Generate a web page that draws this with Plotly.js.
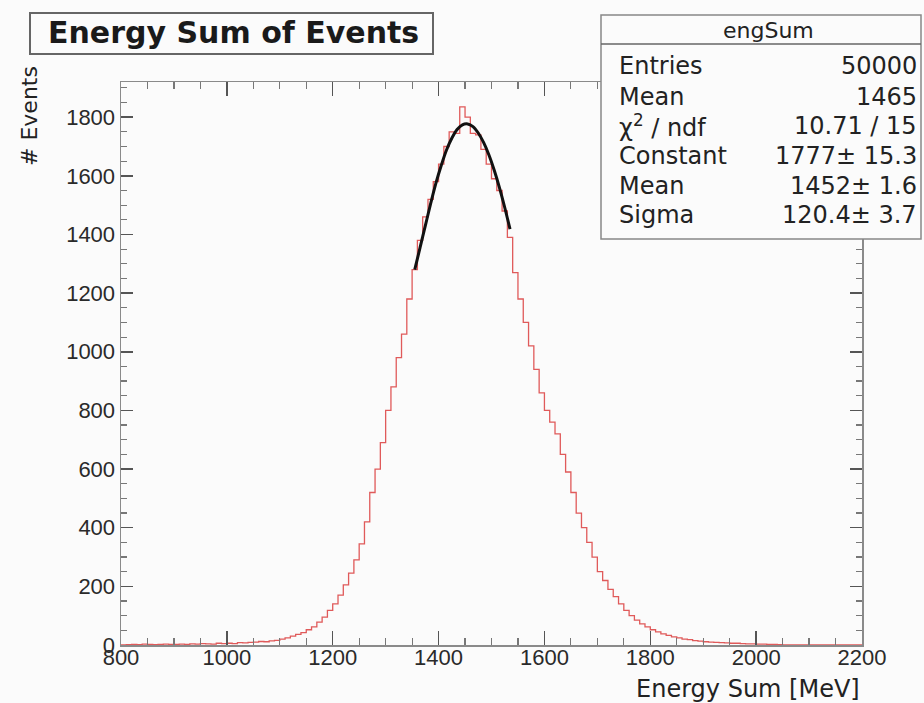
<!DOCTYPE html>
<html>
<head>
<meta charset="utf-8">
<script src="https://cdn.plot.ly/plotly-3.0.1.min.js"></script>
<style>html,body{margin:0;padding:0;background:#fbfbfb;}</style>
</head>
<body>
<div id="chart" style="width:924px;height:703px;"></div>
<script>
// ---- data ----
const binStart = 800;      // lower edge of first bin (MeV)
const binWidth = 10;       // MeV per bin
const counts = [
  0,1,2,1,3,2,1,2,3,2,            // 800
  2,3,2,4,3,5,4,3,6,5,            // 900
  6,5,8,7,9,10,12,11,14,16,       // 1000
  20,24,30,36,42,52,62,78,95,118, // 1100
  140,170,205,245,290,345,420,520,600,690,        // 1200
  800,880,980,1060,1180,1280,1380,1460,1520,1580, // 1300
  1640,1700,1750,1745,1835,1800,1745,1740,1690,1640, // 1400
  1590,1550,1480,1390,1270,1180,1100,1020,940,860,   // 1500
  800,760,720,650,590,520,450,400,350,300,        // 1600
  250,220,190,165,140,118,100,85,72,62,           // 1700
  52,45,38,33,28,24,20,18,15,13,                  // 1800
  11,10,9,8,7,6,6,5,4,4,                          // 1900
  3,3,2,2,1,0,0,0,0,0,                            // 2000
  0,0,0,0,0,0,0,0,0,0                             // 2100
];
const fitX = [1355,1365,1375,1385,1395,1405,1415,1425,1435,1445,1455,1465,1475,1485,1495,1505,1515,1525,1535];
const fitY = [1280,1355,1430,1505,1575,1635,1688,1728,1758,1774,1777,1768,1746,1714,1672,1620,1560,1492,1418];
const xTickVals = [800,1000,1200,1400,1600,1800,2000,2200];
const yTickVals = [0,200,400,600,800,1000,1200,1400,1600,1800];
const chartTitle = "Energy Sum of Events";
const xTitle = "Energy Sum [MeV]";
const yTitle = "# Events";
const statsName = "engSum";
const statsLabels = ["Entries","Mean","χ<sup>2</sup> / ndf","Constant","Mean","Sigma"];
const statsValues = ["50000","1465","10.71 / 15","1777± 15.3","1452± 1.6","120.4± 3.7"];

// ---- build histogram outline ----
const hx = [], hy = [];
for (let i = 0; i < counts.length; i++) { hx.push(binStart + i*binWidth); hy.push(counts[i]); }
hx.push(binStart + counts.length*binWidth); hy.push(counts[counts.length-1]);

// ---- geometry helpers ----
const W = 924, H = 703, L = 121, R = 62, T = 82, B = 58;
const pw = W - L - R, ph = H - T - B;
const px = v => (v - L) / pw;
const py = v => (H - B - v) / ph;

const FONT = "Liberation Sans, Arial, Helvetica, sans-serif";
const WFONT = "DejaVu Sans, Liberation Sans, sans-serif";

const traces = [
  { x: hx, y: hy, type: 'scatter', mode: 'lines', line: { shape: 'hv', color: '#e05a5a', width: 1.3 }, hoverinfo: 'skip', showlegend: false },
  { x: fitX, y: fitY, type: 'scatter', mode: 'lines', line: { shape: 'spline', color: '#111', width: 3 }, hoverinfo: 'skip', showlegend: false }
];

const annotations = [
  { text: '<b>' + chartTitle + '</b>', xref: 'paper', yref: 'paper', x: px(46), y: py(33), xanchor: 'left', yanchor: 'middle', showarrow: false, font: { family: WFONT, size: 30, color: '#1a1a1a' } },
  { text: xTitle, xref: 'paper', yref: 'paper', x: px(862), y: py(689), xanchor: 'right', yanchor: 'middle', showarrow: false, font: { family: WFONT, size: 24, color: '#222' } },
  { text: yTitle, xref: 'paper', yref: 'paper', x: px(30), y: py(64), xanchor: 'center', yanchor: 'top', textangle: -90, showarrow: false, font: { family: WFONT, size: 22, color: '#222' } },
  { text: statsName, xref: 'paper', yref: 'paper', x: px(768), y: py(30), xanchor: 'center', yanchor: 'middle', showarrow: false, font: { family: WFONT, size: 22, color: '#222' } }
];
const rowY = [66, 97, 126, 156, 186, 215];
statsLabels.forEach((s, i) => {
  annotations.push({ text: s, xref: 'paper', yref: 'paper', x: px(617), y: py(rowY[i]), xanchor: 'left', yanchor: 'middle', showarrow: false, font: { family: WFONT, size: 24, color: '#222' } });
  annotations.push({ text: statsValues[i], xref: 'paper', yref: 'paper', x: px(919), y: py(rowY[i]), xanchor: 'right', yanchor: 'middle', showarrow: false, font: { family: WFONT, size: 24, color: '#222' } });
});

const shapes = [
  { type: 'rect', xref: 'paper', yref: 'paper', x0: px(30), x1: px(433), y0: py(54), y1: py(13), line: { color: '#666', width: 2 }, fillcolor: 'rgba(255,255,255,0)' },
  { type: 'rect', xref: 'paper', yref: 'paper', x0: px(601), x1: px(921), y0: py(239), y1: py(15), line: { color: '#888', width: 1.5 }, fillcolor: '#fbfbfb' },
  { type: 'line', xref: 'paper', yref: 'paper', x0: px(601), x1: px(921), y0: py(44), y1: py(44), line: { color: '#666', width: 1.5 } }
];

const axisCommon = {
  showgrid: false, zeroline: false, showline: true, linecolor: '#8a8a8a', linewidth: 1.5,
  mirror: 'allticks', ticks: 'inside', tickcolor: '#555', tickwidth: 1.5,
  tickfont: { family: FONT, size: 22, color: '#2a2a2a' }, tickmode: 'array'
};

const layout = {
  width: W, height: H,
  margin: { l: L, r: R, t: T, b: B, pad: 0 },
  paper_bgcolor: '#fbfbfb', plot_bgcolor: '#fbfbfb',
  showlegend: false,
  xaxis: Object.assign({}, axisCommon, {
    range: [800, 2200], tickvals: xTickVals, ticktext: xTickVals.map(String), ticklen: 14,
    ticklabelstandoff: -8,
    minor: { dtick: 50, tick0: 800, ticks: 'inside', ticklen: 7, tickcolor: '#777', tickwidth: 1.2, showgrid: false }
  }),
  yaxis: Object.assign({}, axisCommon, {
    range: [0, 1920], tickvals: yTickVals, ticktext: yTickVals.map(String), ticklen: 12,
    minor: { dtick: 50, tick0: 0, ticks: 'inside', ticklen: 6, tickcolor: '#777', tickwidth: 1.2, showgrid: false }
  }),
  annotations: annotations,
  shapes: shapes
};

Plotly.newPlot('chart', traces, layout, { displayModeBar: false, staticPlot: true });
</script>
</body>
</html>
